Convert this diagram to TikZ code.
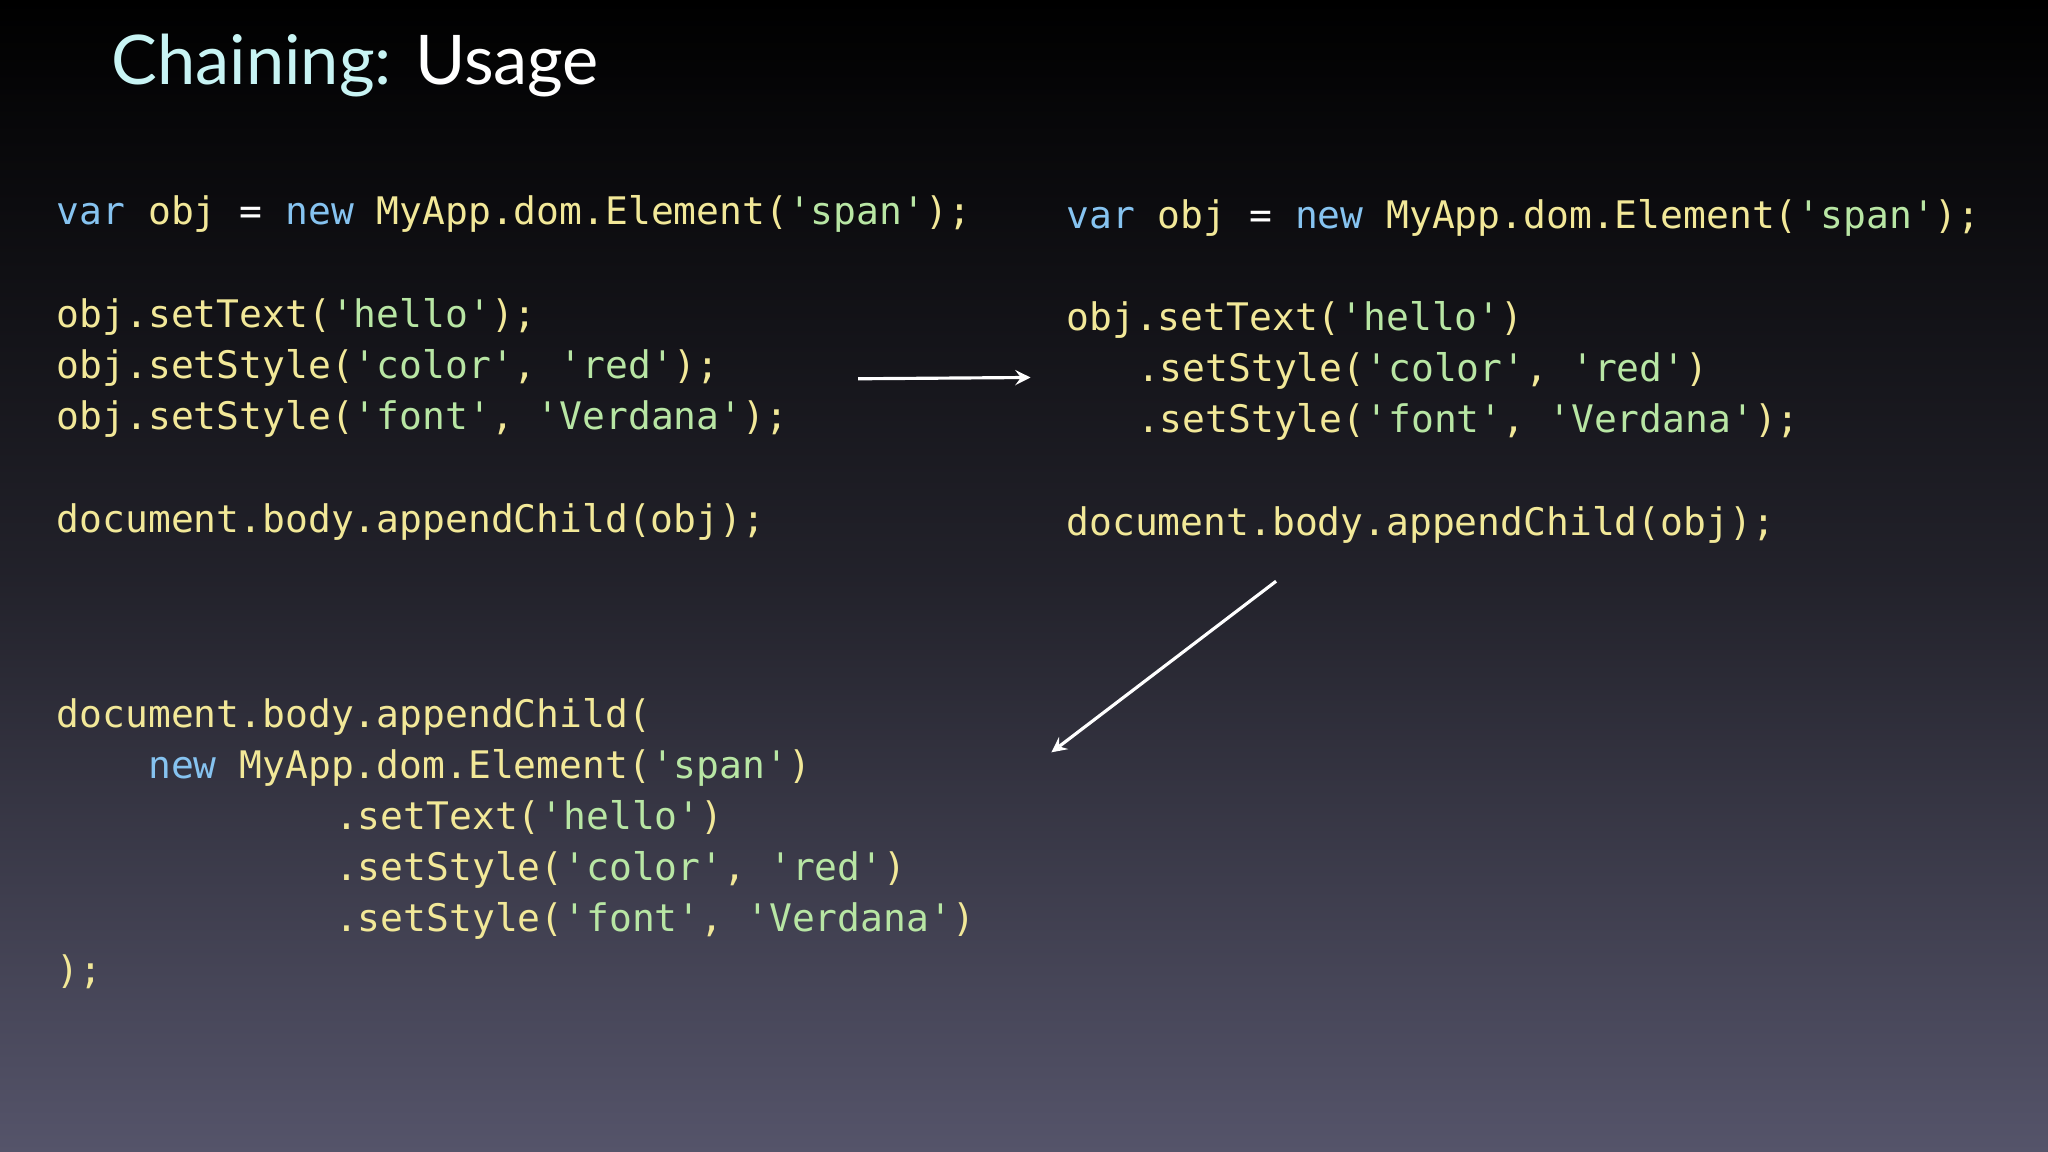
\documentclass[tikz,border=0pt]{standalone}
\usepackage{fontspec}
\newfontfamily\codefont{DejaVu Sans Mono}
\newfontfamily\titlefont{Lato}
\definecolor{bgtop}{HTML}{000000}
\definecolor{bgbot}{HTML}{55546A}
\definecolor{kwc}{HTML}{86C3F0}
\definecolor{idc}{HTML}{F2E898}
\definecolor{stc}{HTML}{B8E6A4}
\definecolor{ttl}{HTML}{C8F4F4}
\newcommand{\kw}[1]{\textcolor{kwc}{#1}}
\newcommand{\st}[1]{\textcolor{stc}{#1}}
\newcommand{\op}[1]{\textcolor{white}{#1}}
\tikzset{cl/.style={anchor=base west,inner sep=0pt,text=idc,font=\codefont\fontsize{10.8pt}{12pt}\selectfont},
arr/.style={white,line width=0.9pt,-stealth}}
\begin{document}
\begin{tikzpicture}[x=0.013061cm,y=-0.013061cm]
\shade[top color=bgtop,bottom color=bgbot,middle color=bgtop!60!bgbot] (0,0) rectangle (1568,882);
\useasboundingbox (0,0) rectangle (1568,882);
\node[anchor=base west,inner sep=0pt,font=\titlefont\fontsize{19.5pt}{24pt}\selectfont] (title) at (85,65) {\textcolor{ttl}{Chaining:} \textcolor{white}{Usage}};
% left
\node[cl] (l1) at (43,172) {\kw{var} obj \op{=} \kw{new} MyApp.dom.Element(\st{'span'});};
\node[cl] (l2) at (43,251) {obj.setText(\st{'hello'});};
\node[cl] (l3) at (43,290) {obj.setStyle(\st{'color'}, \st{'red'});};
\node[cl] (l4) at (43,329) {obj.setStyle(\st{'font'}, \st{'Verdana'});};
\node[cl] (l5) at (43,408) {document.body.appendChild(obj);};
% right
\node[cl] (r1) at (816,175) {\kw{var} obj \op{=} \kw{new} MyApp.dom.Element(\st{'span'});};
\node[cl] (r2) at (816,253) {obj.setText(\st{'hello'})};
\node[cl] (r3) at (870,292) {.setStyle(\st{'color'}, \st{'red'})};
\node[cl] (r4) at (870,331) {.setStyle(\st{'font'}, \st{'Verdana'});};
\node[cl] (r5) at (816,410) {document.body.appendChild(obj);};
% bottom
\node[cl] (b1) at (43,557) {document.body.appendChild(};
\node[cl] (b2) at (113,596) {\kw{new} MyApp.dom.Element(\st{'span'})};
\node[cl] (b3) at (256,635) {.setText(\st{'hello'})};
\node[cl] (b4) at (256,674) {.setStyle(\st{'color'}, \st{'red'})};
\node[cl] (b5) at (256,713) {.setStyle(\st{'font'}, \st{'Verdana'})};
\node[cl] (b6) at (43,753) {);};
\coordinate (a1s) at (657,290); \coordinate (a1e) at (789,289);
\coordinate (a2s) at (977,445); \coordinate (a2e) at (805,576);
\draw[arr] (a1s) -- (a1e);
\draw[arr] (a2s) -- (a2e);
\end{tikzpicture}
\end{document}
